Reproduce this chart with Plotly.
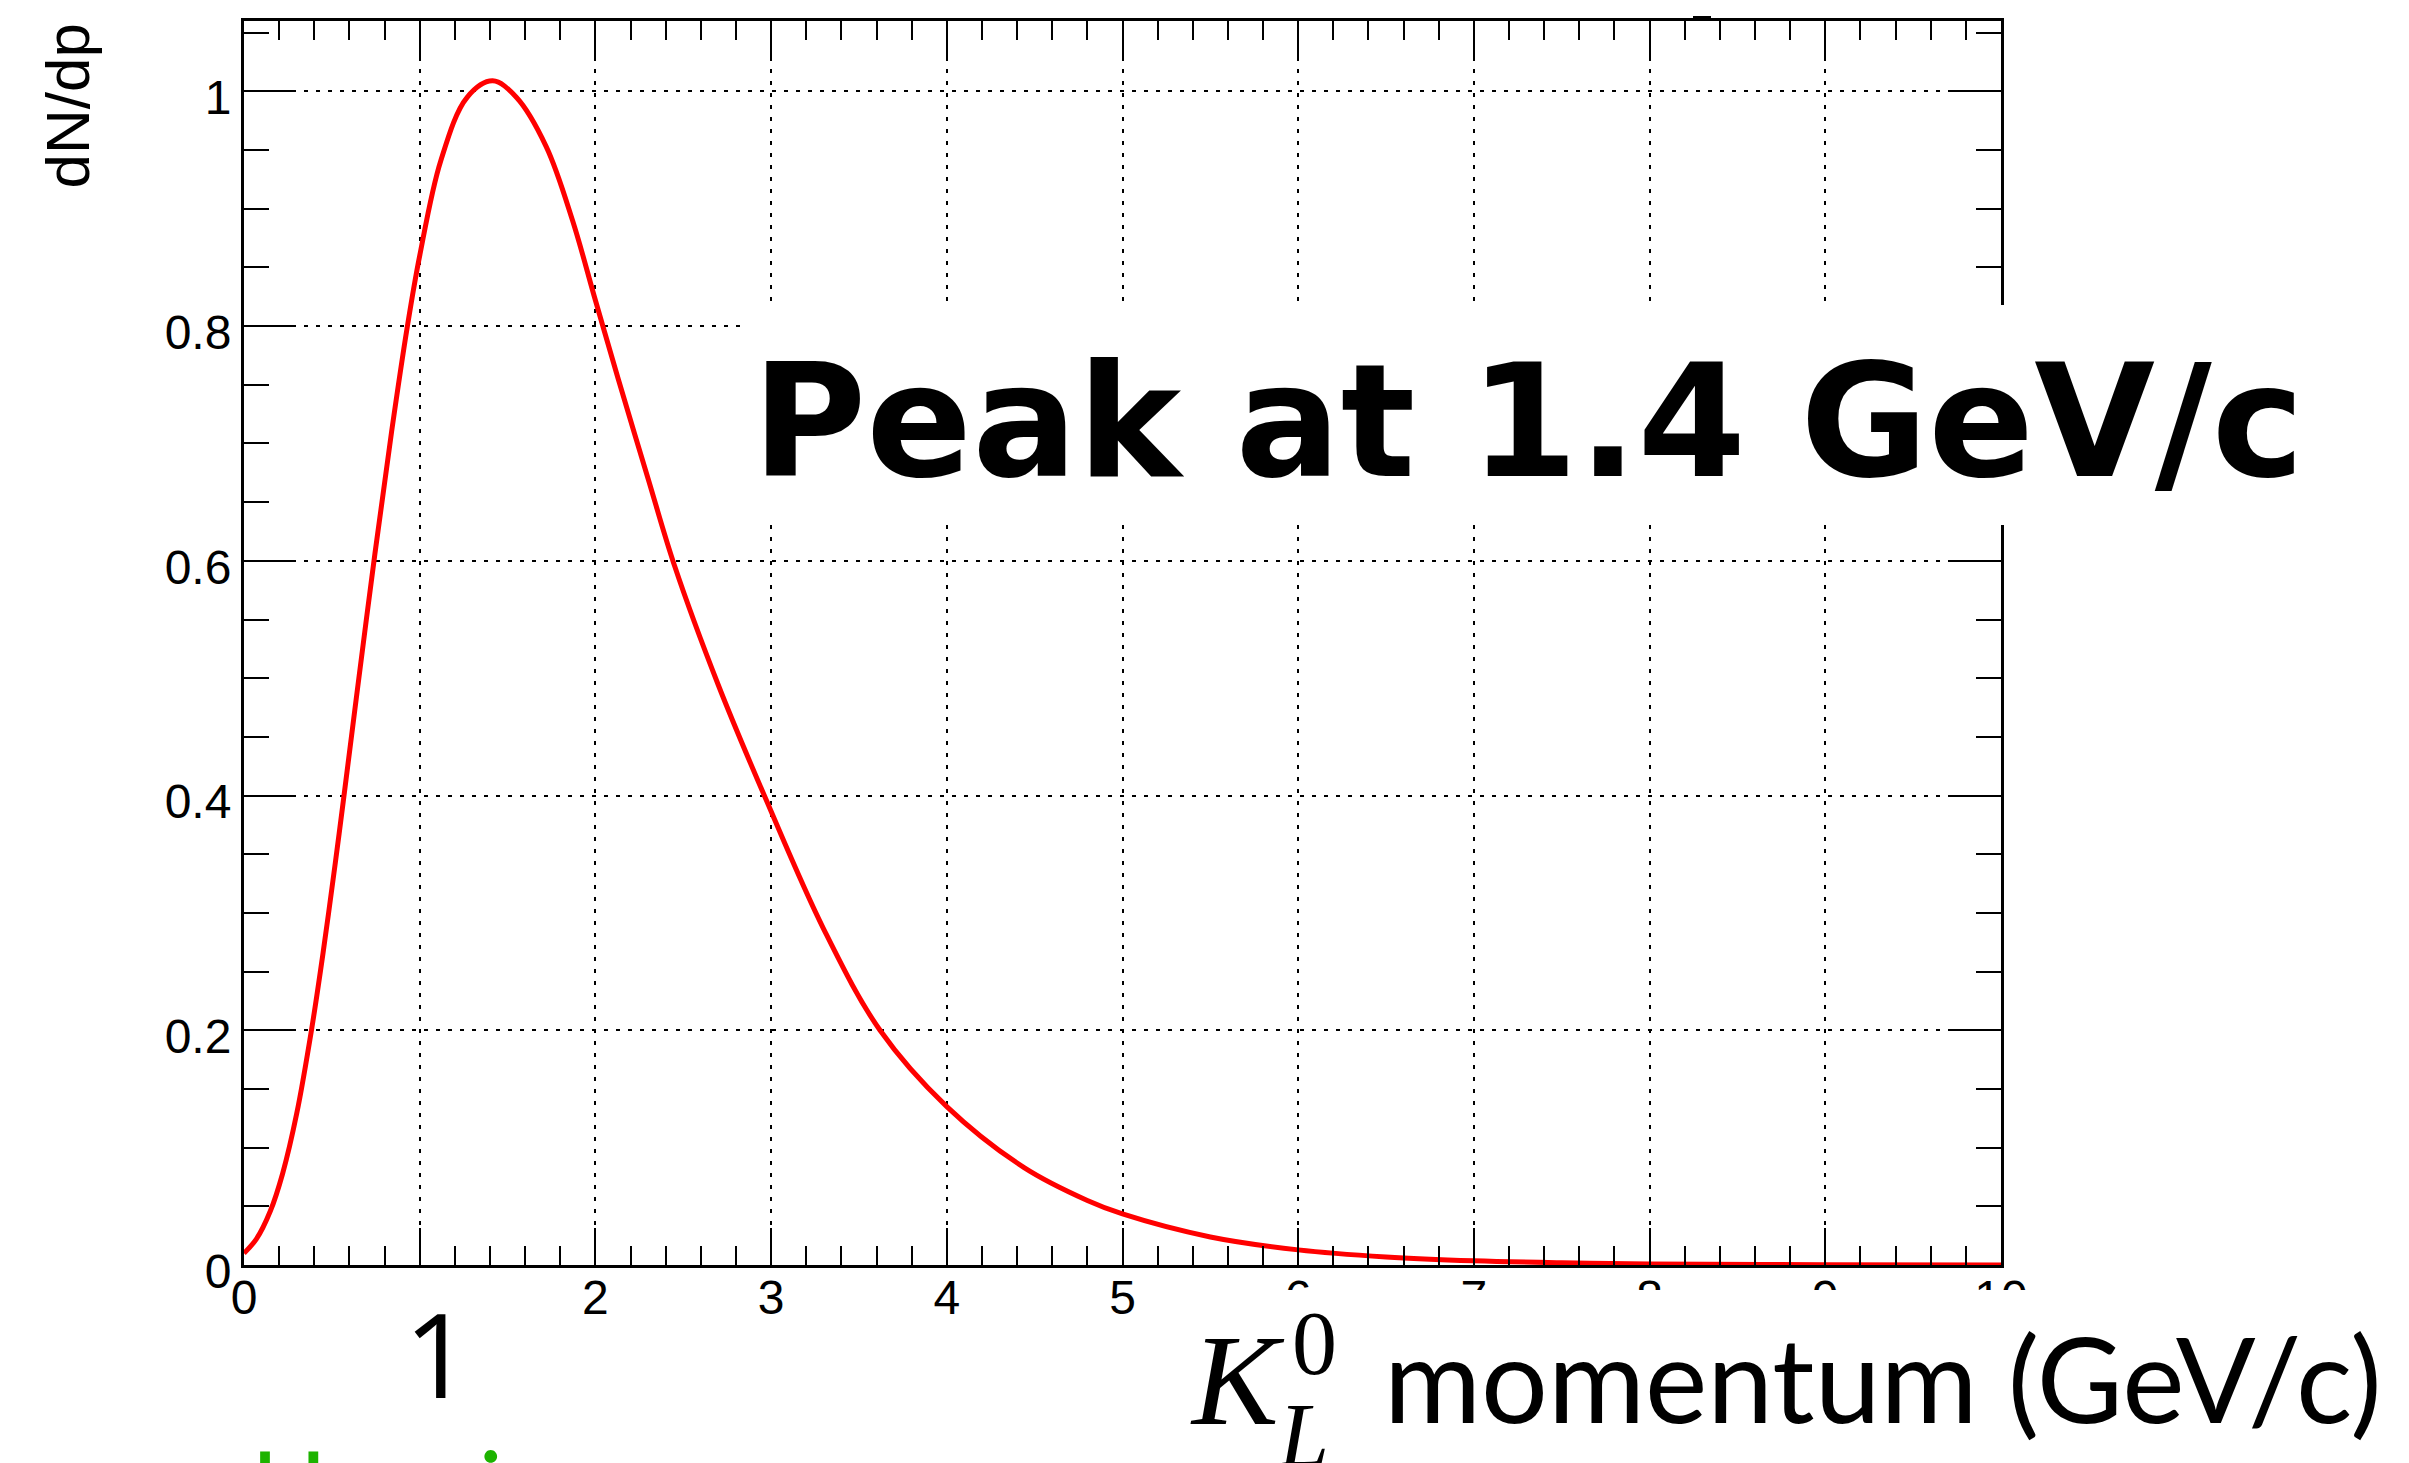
import plotly.graph_objects as go

# K_L^0 momentum spectrum
momentum = [0, 0.07, 0.15, 0.22, 0.3, 0.385, 0.45, 0.52, 0.565, 0.64, 0.745, 0.84, 0.93, 1.0, 1.12, 1.27,
            1.415, 1.55, 1.72, 1.87, 2.0, 2.13, 2.3, 2.45, 2.7, 2.97, 3.3, 3.62, 4.0, 4.44, 4.8, 5.0,
            5.5, 6.0, 6.5, 7.0, 7.5, 8.0, 9.0, 10.0]
dndp = [0.01, 0.022, 0.046, 0.078, 0.129, 0.201, 0.266, 0.343, 0.395, 0.484, 0.606, 0.71, 0.8, 0.86,
        0.941, 0.995, 1.009, 0.995, 0.953, 0.89, 0.822, 0.755, 0.67, 0.596, 0.494, 0.397, 0.286, 0.2,
        0.135, 0.083, 0.055, 0.0435, 0.0239, 0.0129, 0.0069, 0.0036, 0.0019, 0.00095, 0.00024, 0.00006]

x_ticks = [0, 1, 2, 3, 4, 5, 6, 7, 8, 9, 10]
x_tick_text = ["0", "", "2", "3", "4", "5", "6", "7", "8", "9", "10"]
y_ticks = [0, 0.2, 0.4, 0.6, 0.8, 1]
y_tick_text = ["0", "0.2", "0.4", "0.6", "0.8", "1"]

peak_text = "Peak at 1.4 GeV/c"
y_title = "dN/dp"
x_title = "momentum (GeV/c)"
note_text = "Heavier"

# canvas and plot box in pixels
W, H = 2409, 1463
L, R, T, B = 244, 2001, 21, 1265


def px(x):
    return (x - L) / (R - L)


def py(y):
    return (B - y) / (B - T)


fig = go.Figure()
fig.add_trace(go.Scatter(
    x=momentum, y=dndp, mode="lines",
    line=dict(color="#ff0000", width=5, shape="spline", smoothing=1.0),
    hoverinfo="skip", showlegend=False,
))

axis_common = dict(
    showline=True, linecolor="black", linewidth=3, mirror="ticks",
    ticks="inside", tickcolor="black", tickwidth=2,
    showgrid=True, gridcolor="black", gridwidth=2, griddash="4px,8px",
    zeroline=False,
    tickfont=dict(family="Liberation Sans, Arial, sans-serif", size=48, color="black"),
)

fig.update_xaxes(
    range=[0, 10], tickmode="array", tickvals=x_ticks, ticktext=x_tick_text,
    ticklen=37, ticklabelstandoff=-12,
    minor=dict(dtick=0.2, ticks="inside", ticklen=19, tickcolor="black", tickwidth=2, showgrid=False),
    **axis_common,
)
fig.update_yaxes(
    range=[0, 1.06], tickmode="array", tickvals=y_ticks, ticktext=y_tick_text,
    ticklen=50, ticklabelshift=6,
    minor=dict(dtick=0.05, ticks="inside", ticklen=25, tickcolor="black", tickwidth=2, showgrid=False),
    **axis_common,
)

# white boxes of the slide text laid over the plot
white = dict(type="rect", xref="paper", yref="paper", fillcolor="white",
             line=dict(width=0), layer="above")
shapes = [
    dict(white, x0=px(742), x1=px(W + 5), y0=py(305), y1=py(525)),
    dict(white, x0=px(1180), x1=px(W + 5), y0=py(1290), y1=py(H + 5)),
    dict(type="rect", xref="paper", yref="paper", fillcolor="black", line=dict(width=0),
         layer="above", x0=px(1693), x1=px(1711), y0=py(16), y1=py(20)),
]

sans = "Lato, Noto Sans, sans-serif"
serif = "Liberation Serif, Times New Roman, serif"
annotations = [
    dict(text=y_title, x=px(67), y=py(22), textangle=-90, xanchor="center", yanchor="top",
         font=dict(family="Liberation Sans, Arial, sans-serif", size=62, color="black")),
    dict(text=peak_text, x=px(1528), y=py(422), xanchor="center", yanchor="middle",
         font=dict(family="DejaVu Sans, sans-serif", size=156, color="black", weight="bold")),
    dict(text="1", x=px(437), y=py(1352), xanchor="center", yanchor="middle",
         font=dict(family="Open Sans, sans-serif", size=118, color="black")),
    dict(text="<i>K</i>", x=px(1188), y=py(1380), xanchor="left", yanchor="middle",
         font=dict(family=serif, size=130, color="black")),
    dict(text="0", x=px(1290), y=py(1343), xanchor="left", yanchor="middle",
         font=dict(family=serif, size=90, color="black")),
    dict(text="<i>L</i>", x=px(1275), y=py(1435), xanchor="left", yanchor="middle",
         font=dict(family=serif, size=90, color="black")),
    dict(text=x_title, x=px(1382), y=py(1377), xanchor="left", yanchor="middle",
         font=dict(family=sans, size=118, color="black")),
    dict(text=note_text, x=px(249), y=py(1423), xanchor="left", yanchor="top",
         font=dict(family=sans, size=100, color="#1db300")),
]
for a in annotations:
    a.update(xref="paper", yref="paper", showarrow=False)

fig.update_layout(
    width=W, height=H,
    margin=dict(l=L, r=W - R, t=T, b=H - B, pad=0),
    paper_bgcolor="white", plot_bgcolor="white",
    shapes=shapes, annotations=annotations,
    showlegend=False,
)

fig.write_html("out.html", config={"displayModeBar": False},
               post_script="document.body.style.margin='0';document.body.style.overflow='hidden';")
